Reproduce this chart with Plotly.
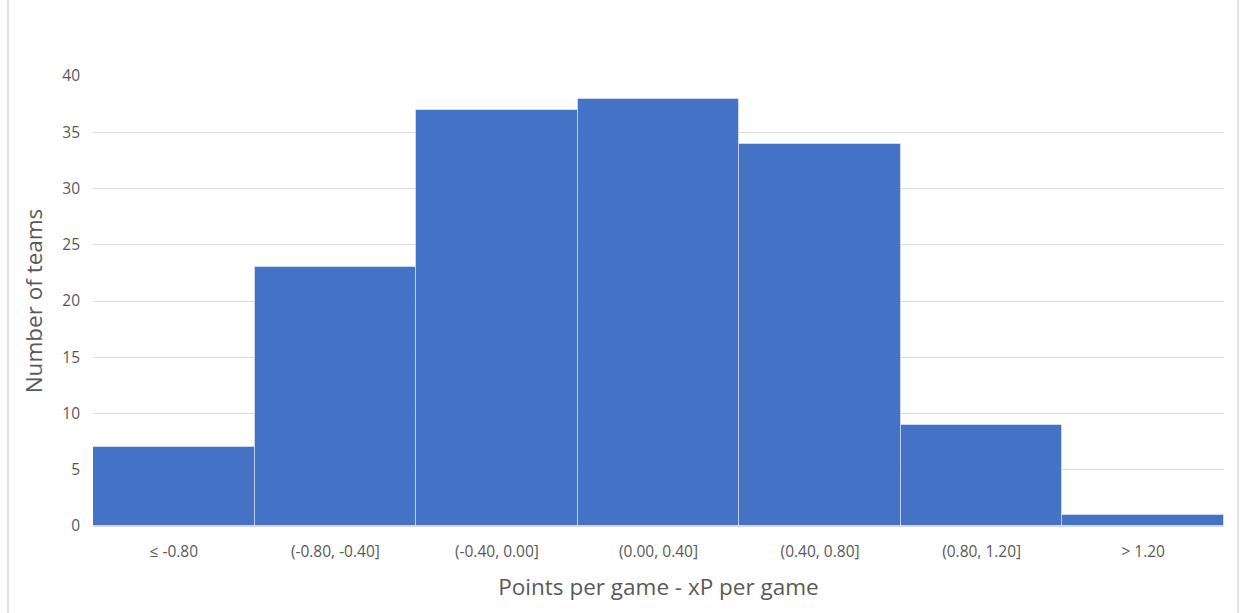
import plotly.graph_objects as go

# Histogram bins of (points per game - xP per game) and team counts
bins = ["≤ -0.80", "(-0.80, -0.40]", "(-0.40, 0.00]", "(0.00, 0.40]",
        "(0.40, 0.80]", "(0.80, 1.20]", "> 1.20"]
teams = [7, 23, 37, 38, 34, 9, 1]

y_ticks = [0, 5, 10, 15, 20, 25, 30, 35, 40]

W, H = 1242, 613
L, R, T, B = 93, 18, 76, 87
pw, ph = W - L - R, H - T - B

text_col = "#595959"
grid_col = "#d9d9d9"
font_family = "'Open Sans', Lato, sans-serif"

fig = go.Figure(
    go.Bar(
        x=bins,
        y=teams,
        marker=dict(color="#4472C4",
                    line=dict(color="rgba(255,255,255,0.45)", width=1)),
        width=1.0,
        hoverinfo="x+y",
    )
)

fig.update_layout(
    width=W, height=H,
    margin=dict(l=L, r=R, t=T, b=B, pad=0),
    paper_bgcolor="white",
    plot_bgcolor="white",
    showlegend=False,
    bargap=0,
    font=dict(family=font_family, color=text_col),
    xaxis=dict(
        type="category",
        range=[-0.5, len(bins) - 0.5],
        tickfont=dict(size=15.5, color=text_col),
        ticks="", showgrid=False,
        showline=True, linecolor=grid_col, linewidth=1,
        ticklabelstandoff=11,
        title=dict(text="Points per game - xP per game",
                   font=dict(size=22.5, color=text_col), standoff=18),
    ),
    yaxis=dict(
        range=[0, 40],
        tickvals=y_ticks,
        tickfont=dict(size=15.5, color=text_col),
        ticks="", showgrid=True, gridcolor=grid_col, gridwidth=1,
        zeroline=False, showline=False,
        ticklabelstandoff=12,
        title=dict(text="Number of teams",
                   font=dict(size=22.5, color=text_col), standoff=13),
    ),
    shapes=[
        dict(type="rect", xref="paper", yref="paper",
             x0=(8 - L) / pw, x1=(1238 - L) / pw,
             y0=(H - T - 660) / ph, y1=(H - T - 8) / ph,
             line=dict(color=grid_col, width=1.5),
             fillcolor="rgba(0,0,0,0)", layer="below"),
    ],
)

fig.write_html("out.html")
